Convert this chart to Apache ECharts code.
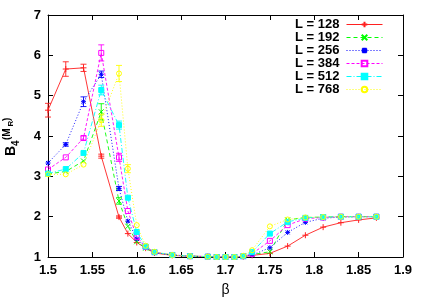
<!DOCTYPE html>
<html>
<head>
<meta charset="utf-8">
<script src="https://cdn.jsdelivr.net/npm/echarts@6/dist/echarts.min.js"></script>
<style>html,body{margin:0;padding:0;background:#fff}#c{width:427px;height:299px}</style>
</head>
<body>
<div id="c"></div>
<script>
const beta = [1.50,1.52,1.54,1.56,1.58,1.59,1.60,1.61,1.62,1.64,1.66,1.68,1.69,1.70,1.71,1.72,1.73,1.75,1.77,1.79,1.81,1.83,1.85,1.87];
const xTicks = [1.5,1.55,1.6,1.65,1.7,1.75,1.8,1.85,1.9];
const yTicks = [1,2,3,4,5,6,7];
const labels = ['L = 128','L = 192','L = 256','L = 384','L = 512','L = 768'];
const L128 = [4.64,5.66,5.69,3.50,1.99,1.58,1.36,1.22,1.10,1.04,1.02,1.01,1.00,1.00,1.00,1.01,1.04,1.09,1.27,1.54,1.74,1.85,1.92,1.97];
const L192 = [3.06,3.12,3.38,4.60,2.39,1.76,1.38,1.22,1.11,1.05,1.02,1.01,1.00,1.00,1.00,1.01,1.06,1.13,1.92,1.98,1.99,2.00,2.00,2.00];
const L256 = [3.33,3.79,4.85,5.53,2.70,1.89,1.45,1.24,1.11,1.05,1.02,1.01,1.00,1.00,1.00,1.01,1.05,1.23,1.61,1.86,1.96,1.99,2.00,2.00];
const L384 = [3.17,3.47,3.95,6.06,3.47,2.14,1.50,1.25,1.12,1.05,1.02,1.01,1.00,1.00,1.00,1.02,1.08,1.40,1.79,1.95,1.98,2.00,2.00,2.00];
const L512 = [3.07,3.18,3.58,5.14,4.27,2.47,1.62,1.26,1.12,1.05,1.02,1.01,1.00,1.00,1.00,1.02,1.12,1.58,1.87,1.97,1.99,2.00,2.00,2.00];
const L768 = [3.05,3.05,3.29,4.39,5.55,3.19,1.79,1.28,1.13,1.05,1.02,1.01,1.00,1.00,1.00,1.03,1.17,1.76,1.93,1.98,1.99,2.00,2.00,2.00];
const E128 = [0.17,0.18,0.09,0.05,0.03,0,0,0,0,0,0,0,0,0,0,0,0,0,0,0,0,0,0,0];
const E192 = [0,0,0,0.20,0.08,0,0,0,0,0,0,0,0,0,0,0,0,0,0,0,0,0,0,0];
const E256 = [0,0.04,0.12,0.08,0.05,0,0,0,0,0,0,0,0,0,0,0,0,0,0,0,0,0,0,0];
const E384 = [0,0,0.05,0.20,0.10,0,0,0,0,0,0,0,0,0,0,0,0,0,0,0,0,0,0,0];
const E512 = [0,0,0,0.12,0.10,0,0,0,0,0,0,0,0,0,0,0,0,0,0,0,0,0,0,0];
const E768 = [0,0,0,0.15,0.20,0.10,0,0,0,0,0,0,0,0,0,0,0,0,0,0,0,0,0,0];

const values = [L128,L192,L256,L384,L512,L768];
const errors = [E128,E192,E256,E384,E512,E768];
const colors = ['#ff2020','#00ff00','#0000ff','#ff00ff','#00ffff','#ffff00'];
const dashes = ['solid',[4,3],[1,2],[3,2],[5,2,1,2],[1,2]];
const symbols = [
  'path://M0,5L10,5M5,0L5,10',
  'path://M0,0L10,10M10,0L0,10',
  'path://M0,5L10,5M5,0L5,10M1,1L9,9M9,1L1,9',
  'rect','rect','circle'
];
const fills = ['none','none','none','rgba(255,255,255,0)',null,'rgba(255,255,255,0)'];
const sizes = [6,5,5,5,5,5];

const FONT = '"Liberation Sans", Arial, Helvetica, sans-serif';
const series = [];
values.forEach((v,i)=>{
  const it = {borderColor: colors[i], borderWidth: 1};
  it.color = fills[i] === null ? colors[i] : fills[i];
  series.push({
    name: labels[i], type: 'line', xAxisIndex: 0, yAxisIndex: 0,
    data: beta.map((b,k)=>[b,v[k]]),
    symbol: symbols[i], symbolSize: sizes[i], showAllSymbol: true,
    lineStyle: {color: colors[i], width: 0.9, type: dashes[i]},
    itemStyle: it, z: 2 + i
  });
  series.push({
    name: labels[i] + ' err', type: 'custom', xAxisIndex: 0, yAxisIndex: 0,
    data: beta.map((b,k)=>[b,v[k],errors[i][k]]).filter(d=>d[2]>0),
    z: 2 + i,
    renderItem: function(params, api){
      const x = api.value(0), y = api.value(1), e = api.value(2);
      const a = api.coord([x, y + e]), b = api.coord([x, y - e]);
      const st = {stroke: colors[i], lineWidth: 0.9};
      return {type:'group', children:[
        {type:'line', shape:{x1:a[0],y1:a[1],x2:b[0],y2:b[1]}, style:st},
        {type:'line', shape:{x1:a[0]-3,y1:a[1],x2:a[0]+3,y2:a[1]}, style:st},
        {type:'line', shape:{x1:b[0]-3,y1:b[1],x2:b[0]+3,y2:b[1]}, style:st}
      ]};
    }
  });
});

const axisLine = {show:true, lineStyle:{color:'#000', width:1}};
const tick = {show:true, inside:true, length:5, lineStyle:{color:'#000'}};
const lab = {color:'#000', fontSize:13, fontWeight:'bold', fontFamily:FONT};
const chart = echarts.init(document.getElementById('c'), null, {renderer:'canvas'});
chart.setOption({
  animation: false,
  backgroundColor: '#fff',
  grid: {left:48, right:24, top:15, bottom:42, containLabel:false, outerBoundsMode:'none'},
  xAxis: [
    {type:'value', position:'bottom', min:xTicks[0], max:xTicks[xTicks.length-1], interval:0.05,
     axisLine, axisTick:tick, splitLine:{show:false},
     axisLabel:Object.assign({margin:7, formatter:(v)=>String(+v.toFixed(2))}, lab),
     name:'β', nameLocation:'middle', nameGap:26,
     nameTextStyle:{color:'#000', fontSize:14, fontFamily:FONT}},
    {type:'value', position:'top', min:xTicks[0], max:xTicks[xTicks.length-1], interval:0.05,
     axisLine, axisTick:tick, axisLabel:{show:false}, splitLine:{show:false}}
  ],
  yAxis: [
    {type:'value', position:'left', min:yTicks[0], max:yTicks[yTicks.length-1], interval:1,
     axisLine, axisTick:tick, splitLine:{show:false},
     axisLabel:Object.assign({margin:7}, lab)},
    {type:'value', position:'right', min:yTicks[0], max:yTicks[yTicks.length-1], interval:1,
     axisLine, axisTick:tick, axisLabel:{show:false}, splitLine:{show:false}}
  ],
  legend: {
    data: labels, orient:'vertical', right:39, top:13, align:'right',
    itemWidth:36, itemHeight:7, itemGap:0,
    lineStyle:{width:1},
    textStyle:{color:'#000', fontSize:13, fontWeight:'bold', fontFamily:FONT, lineHeight:13, padding:[0,2,0,0]},
    selectedMode:false
  },
  graphic: [{
    type:'group', x:18, y:156, rotation:Math.PI/2,
    children:[
      {type:'text', x:0, y:0, style:{text:'B', font:'bold 14px '+FONT, fill:'#000', verticalAlign:'bottom', align:'left'}},
      {type:'text', x:10, y:3, style:{text:'4', font:'bold 10px '+FONT, fill:'#000', verticalAlign:'bottom', align:'left'}},
      {type:'text', x:16, y:-6, style:{text:'(M', font:'bold 10px '+FONT, fill:'#000', verticalAlign:'bottom', align:'left'}},
      {type:'text', x:29.5, y:-3, style:{text:'R', font:'bold 8px '+FONT, fill:'#000', verticalAlign:'bottom', align:'left'}},
      {type:'text', x:35, y:-6, style:{text:')', font:'bold 10px '+FONT, fill:'#000', verticalAlign:'bottom', align:'left'}}
    ]
  }],
  series
});
</script>
</body>
</html>
